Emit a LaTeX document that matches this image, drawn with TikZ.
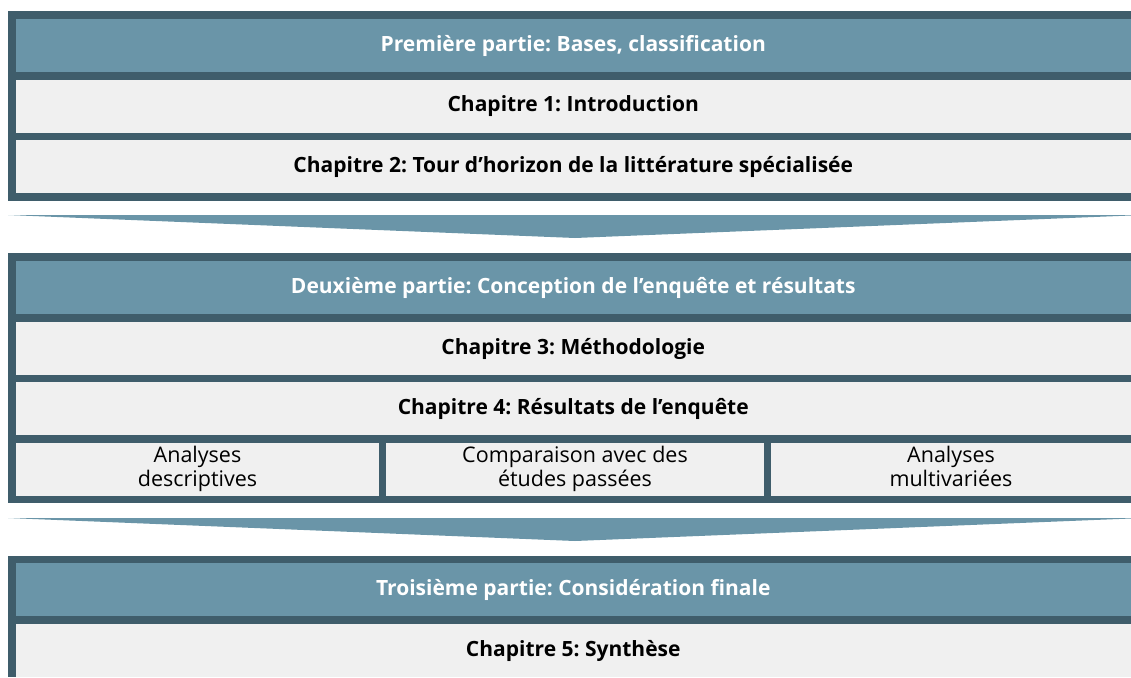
\documentclass[tikz,border=0pt]{standalone}
\usepackage{fontspec}
\setmainfont{Open Sans}
\frenchspacing
\definecolor{framecol}{HTML}{3F5D6B}
\definecolor{headcol}{HTML}{6A95A8}
\definecolor{rowcol}{HTML}{F0F0F0}
\begin{document}
\begin{tikzpicture}[x=1pt,y=-1pt]
\tikzstyle{every node}=[inner sep=0pt, outer sep=0pt, anchor=north west]
\tikzstyle{head}=[fill=headcol, text=white, minimum width=1115.5pt, minimum height=53pt,
                  font=\fontsize{21}{21}\selectfont\bfseries]
\tikzstyle{chap}=[fill=rowcol, text=black, minimum width=1115.5pt, minimum height=53pt,
                  font=\fontsize{21}{21}\selectfont\bfseries]
\tikzstyle{sub}=[fill=rowcol, text=black, minimum height=53pt, align=center,
                 font=\fontsize{21.5}{21}\selectfont]
\tikzstyle{wedge}=[fill=headcol]
\useasboundingbox (0,0) rectangle (1131,677);
% frames
\fill[framecol] (8,11) rectangle (1131,201);
\fill[framecol] (8,253) rectangle (1131,503);
\fill[framecol] (8,556) rectangle (1131,677);
% first part
\node[head] (p1) at (15.5,19) {Première partie: Bases, classification};
\node[chap] (c1) at (15.5,80) {Chapitre 1: Introduction};
\node[chap] (c2) at (15.5,140) {Chapitre 2: Tour d’horizon de la littérature spécialisée};
% second part
\node[head] (p2) at (15.5,261) {Deuxième partie: Conception de l’enquête et résultats};
\node[chap] (c3) at (15.5,322) {Chapitre 3: Méthodologie};
\node[chap] (c4) at (15.5,382) {Chapitre 4: Résultats de l’enquête};
\node[sub, minimum width=363pt] (a1) at (16,443) {Analyses\strut\\descriptives\strut};
\node[sub, minimum width=378pt] (a2) at (386,443) {Comparaison avec des\strut\\études passées\strut};
\node[sub, minimum width=360pt] (a3) at (771,443) {Analyses\strut\\multivariées\strut};
% third part
\node[head] (p3) at (15.5,563) {Troisième partie: Considération finale};
\node[chap] (c5) at (15.5,624) {Chapitre 5: Synthèse};
% arrows between the parts
\fill[wedge] (8,215) -- (1131,215) -- (1131,215.5) -- (575,238) -- cycle;
\fill[wedge] (8,518) -- (1131,518) -- (1131,518.5) -- (575,541) -- cycle;
\end{tikzpicture}
\end{document}
